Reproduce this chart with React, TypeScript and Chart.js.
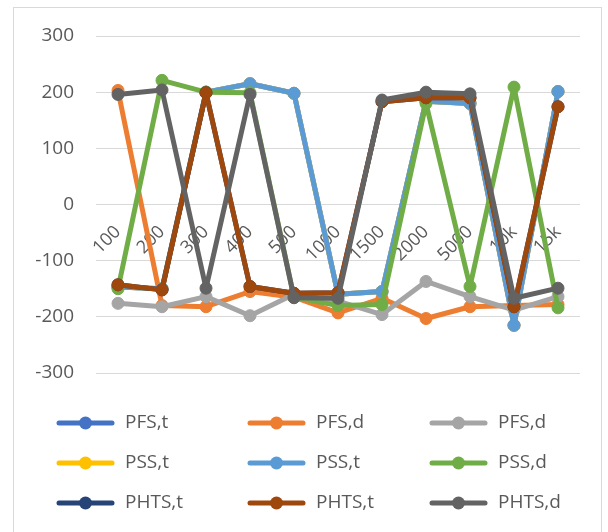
import React, { useEffect, useRef } from "react";
import { Chart, registerables } from "chart.js";

Chart.register(...registerables);

// Frequency steps along the category axis
const categories = ["100", "200", "300", "400", "500", "1000", "1500", "2000", "5000", "10k", "15k"];

// Series values
const pfsT = [-147, -150, 200, 215, 198, -160, -155, 184, 180, -215, 201];
const pfsD1 = [203, -180, -182, -155, -165, -193, -167, -203, -182, -180, -178];
const pfsD2 = [-176, -182, -164, -198, -160, -172, -196, -137, -164, -188, -164];
const pssT1 = [-147, -150, 200, 215, 198, -160, -155, 184, 180, -215, 201];
const pssT2 = [-147, -150, 200, 215, 198, -160, -155, 184, 180, -215, 201];
const pssD = [-150, 221, 200, 199, -165, -180, -178, 180, -146, 209, -184];
const phtsT1 = [-143, -152, 199, -146, -158, -157, 183, 190, 190, -182, 174];
const phtsT2 = [-143, -152, 199, -146, -158, -157, 183, 190, 190, -182, 174];
const phtsD = [196, 204, -149, 196, -166, -167, 186, 200, 197, -167, -149];

const seriesNames = ["PFS,t", "PFS,d", "PFS,d", "PSS,t", "PSS,t", "PSS,d", "PHTS,t", "PHTS,t", "PHTS,d"];
const seriesValues = [pfsT, pfsD1, pfsD2, pssT1, pssT2, pssD, phtsT1, phtsT2, phtsD];
const seriesColors = [
  "#4472C4", "#ED7D31", "#A5A5A5",
  "#FFC000", "#5B9BD5", "#70AD47",
  "#264478", "#9E480E", "#636363",
];

// Y axis range and step
const yMin = -300;
const yMax = 300;
const yStep = 100;

const TEXT_COLOR = "#595959";
const FONT_FAMILY = "'Open Sans', 'Noto Sans', sans-serif";

// White panel with a thin frame behind everything
const framePlugin = {
  id: "frame",
  beforeDraw(chart: any) {
    const { ctx, width, height } = chart;
    ctx.save();
    ctx.fillStyle = "#ffffff";
    ctx.fillRect(0, 0, width, height);
    ctx.strokeStyle = "#D9D9D9";
    ctx.lineWidth = 1;
    ctx.strokeRect(13.5, 7.5, 588, height + 10);
    ctx.restore();
  },
};

// Three-column legend under the plot
const gridLegendPlugin = {
  id: "gridLegend",
  afterDraw(chart: any) {
    const { ctx } = chart;
    const colX = [59, 250, 432];
    const rowY = [423, 463, 503];
    const lineLen = 53;
    ctx.save();
    chart.data.datasets.forEach((ds: any, i: number) => {
      const x0 = colX[i % 3];
      const y = rowY[Math.floor(i / 3)];
      ctx.strokeStyle = ds.borderColor;
      ctx.lineWidth = 5;
      ctx.lineCap = "round";
      ctx.beginPath();
      ctx.moveTo(x0, y);
      ctx.lineTo(x0 + lineLen, y);
      ctx.stroke();
      ctx.fillStyle = ds.borderColor;
      ctx.beginPath();
      ctx.arc(x0 + lineLen / 2, y, 6.5, 0, Math.PI * 2);
      ctx.fill();
      ctx.fillStyle = TEXT_COLOR;
      ctx.font = `19px ${FONT_FAMILY}`;
      ctx.textAlign = "left";
      ctx.textBaseline = "middle";
      ctx.fillText(ds.label, x0 + 66, y);
    });
    ctx.restore();
  },
};

export default function App() {
  const canvasRef = useRef<HTMLCanvasElement | null>(null);

  useEffect(() => {
    document.body.style.margin = "0";
    document.body.style.overflow = "hidden";
    const canvas = canvasRef.current;
    if (!canvas) return;

    const datasets = seriesNames.map((name, i) => ({
      label: name,
      data: seriesValues[i],
      borderColor: seriesColors[i],
      backgroundColor: seriesColors[i],
      pointBackgroundColor: seriesColors[i],
      pointBorderColor: seriesColors[i],
      borderWidth: 5,
      borderJoinStyle: "round" as const,
      borderCapStyle: "round" as const,
      pointRadius: 6,
      pointBorderWidth: 1,
      tension: 0,
      fill: false,
      order: seriesNames.length - i,
    }));

    const chart = new Chart(canvas, {
      type: "line",
      data: { labels: categories, datasets },
      options: {
        animation: false,
        responsive: false,
        maintainAspectRatio: false,
        layout: { padding: { left: 0, top: 36, right: 28, bottom: 159 } },
        plugins: {
          legend: { display: false },
          tooltip: { enabled: false },
        },
        scales: {
          x: {
            type: "category",
            offset: true,
            position: { y: 0 } as any,
            grid: { display: false, drawTicks: false },
            border: { display: false },
            ticks: {
              color: TEXT_COLOR,
              font: { family: FONT_FAMILY, size: 18 },
              minRotation: 45,
              maxRotation: 45,
              padding: 17,
              autoSkip: false,
            },
          },
          y: {
            min: yMin,
            max: yMax,
            grid: { color: "#D9D9D9", lineWidth: 1, drawTicks: false },
            border: { display: false },
            ticks: {
              stepSize: yStep,
              color: TEXT_COLOR,
              font: { family: FONT_FAMILY, size: 19 },
              padding: 22,
            },
            afterFit(scale: any) {
              scale.width = 96;
            },
          },
        },
      },
      plugins: [framePlugin, gridLegendPlugin],
    });

    return () => chart.destroy();
  }, []);

  return (
    <canvas
      ref={canvasRef}
      width={608}
      height={532}
      style={{ display: "block", width: 608, height: 532 }}
    />
  );
}
